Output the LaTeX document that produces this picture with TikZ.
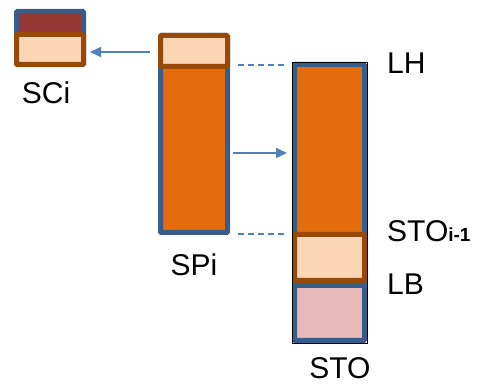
\documentclass[tikz,border=0pt]{standalone}
\usepackage{fontspec}
\setmainfont{Liberation Sans}
\usetikzlibrary{arrows.meta,calc}
\definecolor{Frame}{HTML}{385D8A}
\definecolor{Rust}{HTML}{984807}
\definecolor{Pumpkin}{HTML}{E46C0A}
\definecolor{Peach}{HTML}{FCD5B5}
\definecolor{Wine}{HTML}{953735}
\definecolor{Rose}{HTML}{E6B9B8}
\definecolor{Steel}{HTML}{4F81BD}

\begin{document}
\begin{tikzpicture}[x=1pt,y=1pt,
  stack/.style={draw=Frame,line width=5pt,fill=Pumpkin,rounded corners=1pt,
                minimum width=67pt,inner sep=0pt},
  lid/.style={draw=Rust,line width=5pt,fill=Peach,rounded corners=1pt,
              minimum width=67pt,inner sep=0pt},
  tag/.style={font=\fontsize{30}{32}\selectfont,inner sep=0pt},
  arrow/.style={-{Triangle[length=11pt,width=10pt]},line width=1.5pt,draw=Steel},
  guide/.style={dash pattern=on 6pt off 4pt,line width=1.2pt,draw=Steel}
]
  \useasboundingbox (0,0) rectangle (480,385);
  \node[stack,fill=Wine,minimum height=53pt] (sci) at (50,347) {};
  \node[lid,minimum height=30pt] (scitop) at (50,335.5) {};
  \node[tag] (scitext) at (46,292) {SCi};
  \node[stack,minimum height=197pt] (spi) at (194,251) {};
  \node[lid,minimum height=31pt] (spitop) at (194,334) {};
  \node[tag] (spitext) at (194,120) {SPi};
  \node[stack,minimum width=70pt,minimum height=276pt] (sto) at (329.5,182.5) {};
  \node[stack,fill=Rose,minimum width=70pt,minimum height=55pt] (stobase) at (329.5,72) {};
  \node[lid,minimum width=70pt,minimum height=46pt] (stomid) at (329.5,127.5) {};
  \draw[black,thin] (sto.north west) rectangle (stobase.south east);
  \node[tag] (stotext) at (340,17) {STO};
  \node[tag,anchor=west] (lh) at (387,322) {LH};
  \node[tag,anchor=west] (stoprev) at (387,154) {STO{\bfseries\fontsize{19}{19}\selectfont i-1}};
  \node[tag,anchor=west] (lb) at (387,101) {LB};
  \draw[arrow,shorten <=8pt,shorten >=4pt] ([yshift=-1pt]spitop.west) -- ([yshift=-1pt]spitop.west -| scitop.east);
  \draw[arrow,shorten <=3pt,shorten >=5pt] ([yshift=-19pt]spi.east) -- ([yshift=-19pt]spi.east -| sto.west);
  \draw[guide,shorten <=8pt,shorten >=4pt] ($(spi.east |- sto.north)+(0,-3)$) -- ($(sto.north west)+(0,-3)$);
  \draw[guide,shorten <=8pt,shorten >=4pt] ($(spi.south east)+(0,1)$) -- ($(spi.south east -| sto.west)+(0,1)$);
\end{tikzpicture}
\end{document}
